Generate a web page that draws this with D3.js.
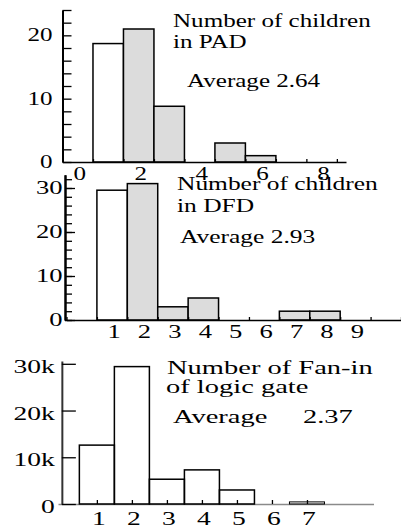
<!DOCTYPE html>
<html>
<head>
<meta charset="utf-8">
<script src="https://cdn.jsdelivr.net/npm/d3@7"></script>
<style>
  html, body { margin: 0; padding: 0; background: #fff; }
  svg { display: block; }
</style>
</head>
<body>
<svg id="chart" width="401" height="528"></svg>
<script>
// Number of children per node in the PAD
const padChildren = [1, 2, 3, 5, 6];
const padCounts   = [18.7, 21, 8.8, 3, 1];
const padXTicks   = [0, 2, 4, 6, 8];
const padYTicks   = [0, 10, 20];

// Number of children per node in the DFD
const dfdChildren = [1, 2, 3, 4, 7, 8];
const dfdCounts   = [29.5, 31, 3, 5, 2, 2];
const dfdXTicks   = [1, 2, 3, 4, 5, 6, 7, 8, 9];
const dfdYTicks   = [0, 10, 20, 30];

// Fan-in of logic gates (thousands)
const fanIn       = [1, 2, 3, 4, 5, 7];
const fanCounts   = [12.6, 29.4, 5.3, 7.3, 3.0, 0.45];
const fanXTicks   = [1, 2, 3, 4, 5, 6, 7];
const fanYTicks   = [0, 10, 20, 30];
const fanYLabels  = ["0", "10k", "20k", "30k"];

const FONT = "'Liberation Serif', 'DejaVu Serif', 'Noto Serif', serif";
const svg = d3.select("#chart");

// text that is stretched horizontally around its anchor point
function label(g, x, y, str, sx, anchor) {
  return g.append("text")
    .attr("transform", `translate(${x},${y}) scale(${sx},1)`)
    .attr("text-anchor", anchor || "start")
    .attr("font-family", FONT)
    .attr("font-size", 19)
    .attr("fill", "#000")
    .text(str);
}

function styleAxis(g, color, width) {
  g.selectAll("path.domain").attr("stroke", color).attr("stroke-width", width);
  g.selectAll(".tick line").attr("stroke", "#000").attr("stroke-width", 1.3);
  g.selectAll(".tick text").remove();
}

function barFill(k) { return k === 1 ? "#fff" : "#dcdcdc"; }

// ---------- PAD ----------
{
  const g = svg.append("g");
  const x = d3.scaleLinear().domain([0, 9.3]).range([62.5, 346]);
  const y = d3.scaleLinear().domain([0, 24]).range([162, 10]);
  const sx = 1.32;

  g.selectAll("rect").data(padChildren).join("rect")
    .attr("x", d => x(d)).attr("width", d => x(d + 1) - x(d))
    .attr("y", (d, i) => y(padCounts[i]))
    .attr("height", (d, i) => y(0) - y(padCounts[i]))
    .attr("fill", d => barFill(d))
    .attr("stroke", "#000").attr("stroke-width", 1.5);

  const ax = g.append("g").attr("transform", `translate(0,${y(0)})`)
    .call(d3.axisBottom(x).tickValues(d3.range(0, 10)).tickSizeInner(-3).tickSizeOuter(0));
  styleAxis(ax, "#000", 1.5);
  const ay = g.append("g").attr("transform", `translate(${x(0)},0)`)
    .call(d3.axisLeft(y).tickValues(d3.range(0, 25, 2)).tickSizeInner(-9).tickSizeOuter(0));
  styleAxis(ay, "#000", 2);

  padXTicks.forEach(t => label(g, x(t + 0.5) + 2, 180, String(t), sx, "middle"));
  padYTicks.forEach(t => label(g, x(0) - 10, y(t) + 6, String(t), sx, "end"));

  label(g, 173, 27, "Number of children", sx);
  label(g, 173, 48, "in PAD", sx);
  label(g, 187, 87, "Average 2.64", sx);
}

// ---------- DFD ----------
{
  const g = svg.append("g");
  const x = d3.scaleLinear().domain([0, 11]).range([66.5, 401]);
  const y = d3.scaleLinear().domain([0, 33]).range([320, 174.8]);
  const sx = 1.34;

  g.selectAll("rect").data(dfdChildren).join("rect")
    .attr("x", d => x(d)).attr("width", d => x(d + 1) - x(d))
    .attr("y", (d, i) => y(dfdCounts[i]))
    .attr("height", (d, i) => y(0) - y(dfdCounts[i]))
    .attr("fill", d => barFill(d))
    .attr("stroke", "#000").attr("stroke-width", 1.5);

  const ax = g.append("g").attr("transform", `translate(0,${y(0)})`)
    .call(d3.axisBottom(x).tickValues(d3.range(0, 12)).tickSizeInner(-3).tickSizeOuter(0));
  styleAxis(ax, "#000", 1.5);
  const ayMinor = g.append("g").attr("transform", `translate(${x(0) - 1.5},0)`)
    .call(d3.axisLeft(y).tickValues(d3.range(0, 34, 2)).tickSizeInner(-7).tickSizeOuter(0));
  styleAxis(ayMinor, "#000", 2);
  const ayMajor = g.append("g").attr("transform", `translate(${x(0) - 1.5},0)`)
    .call(d3.axisLeft(y).tickValues(dfdYTicks).tickSizeInner(-10).tickSizeOuter(0));
  styleAxis(ayMajor, "#000", 2);

  dfdXTicks.forEach(t => label(g, x(t + 0.5) + 2, 338, String(t), 1.4, "middle"));
  dfdYTicks.forEach(t => label(g, x(0) - 4, y(t) + 6, String(t), 1.4, "end"));

  label(g, 177, 189.5, "Number of children", sx);
  label(g, 177, 211.5, "in DFD", sx);
  label(g, 180, 242.5, "Average 2.93", sx);
}

// ---------- Fan-in ----------
{
  const g = svg.append("g");
  const x = d3.scaleLinear().domain([-0.11, 8.9]).range([58, 373.5]);
  const y = d3.scaleLinear().domain([0, 30.6]).range([504, 361]);
  const sx = 1.5;

  const ax = g.append("g").attr("transform", `translate(0,${y(0)})`)
    .call(d3.axisBottom(x).tickValues(fanXTicks).tickSizeInner(-4).tickSizeOuter(0));
  styleAxis(ax, "#8a8a8a", 1.5);

  g.selectAll("rect").data(fanIn).join("rect")
    .attr("x", d => x(d - 0.5)).attr("width", d => x(d + 0.5) - x(d - 0.5))
    .attr("y", (d, i) => y(fanCounts[i]))
    .attr("height", (d, i) => y(0) - y(fanCounts[i]))
    .attr("fill", "none")
    .attr("stroke", "#000").attr("stroke-width", d => d === 7 ? 1 : 1.5);

  const ay = g.append("g").attr("transform", `translate(${x(0)},0)`)
    .call(d3.axisLeft(y).tickValues(fanYTicks).tickSizeInner(-14).tickSizeOuter(0));
  styleAxis(ay, "#333", 2);

  fanXTicks.forEach(t => label(g, x(t) + 2, 525, String(t), 1.45, "middle"));
  fanYTicks.forEach((t, i) => label(g, x(0) - 7, y(t) + 9, fanYLabels[i], 1.45, "end"));

  label(g, 167, 373.5, "Number of Fan-in", sx);
  label(g, 166, 393, "of logic gate", sx);
  label(g, 173, 423, "Average", sx);
  label(g, 303, 423, "2.37", sx);
}
</script>
</body>
</html>
